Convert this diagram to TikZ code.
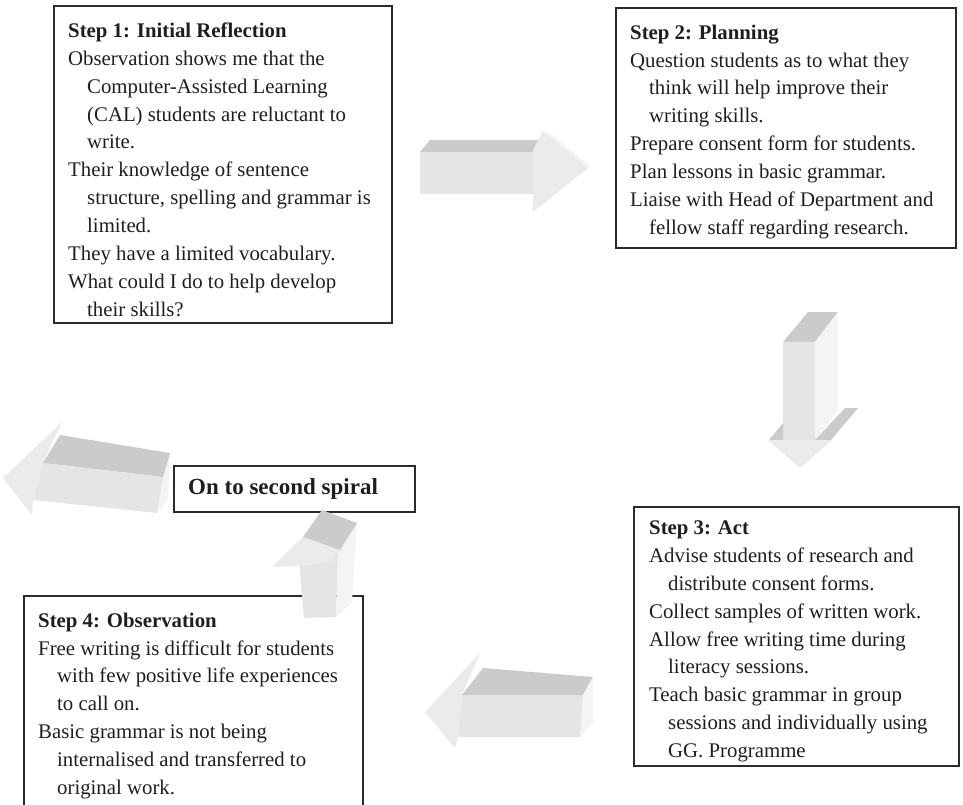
\documentclass[tikz,border=0pt]{standalone}
\usepackage{fontspec}
\setmainfont{Liberation Serif}
\usetikzlibrary{positioning}

\definecolor{ink}{HTML}{1E1E1E}
\definecolor{rule}{HTML}{2B2B2B}
\definecolor{facelight}{HTML}{E5E5E5}
\definecolor{facedark}{HTML}{CBCBCB}
\definecolor{faceside}{HTML}{F4F4F4}
\definecolor{facehead}{HTML}{EBEBEB}

\newcommand{\contline}{\hspace*{19pt}}

\tikzset{
  frame/.style={draw=rule, line width=1.7pt, anchor=north west, inner sep=0pt},
  steptext/.style={align=left, inner sep=0pt, text=ink, font=\fontsize{20.8}{27.9}\selectfont},
  arrowfront/.style={fill=facelight},
  arrowtop/.style={fill=facedark},
  arrowside/.style={fill=faceside},
  arrowhead/.style={fill=facehead}
}

\begin{document}
\begin{tikzpicture}[x=1pt,y=-1pt]
	\useasboundingbox (0,0) rectangle (963,805);
	\clip (0,0) rectangle (963,805);

	\node[frame, minimum width=338pt, minimum height=317pt] (box1) at (53,5) {};
	\node[frame, minimum width=340pt, minimum height=240pt] (box2) at (615,7) {};
	\node[frame, minimum width=325pt, minimum height=259pt] (box3) at (633,506) {};
	\node[frame, minimum width=339pt, minimum height=240pt] (box4) at (23,595) {};
	\node[frame, minimum width=241pt, minimum height=46pt] (spiral) at (173,465) {};

	\node[steptext, below right=17.5pt and 15pt of box1.north west] (step1) {%
		\textbf{Step 1: Initial Reflection}\\
		Observation shows me that the\\
		\contline Computer-Assisted Learning\\
		\contline (CAL) students are reluctant to\\
		\contline write.\\
		Their knowledge of sentence\\
		\contline structure, spelling and grammar is\\
		\contline limited.\\
		They have a limited vocabulary.\\
		What could I do to help develop\\
		\contline their skills?};

	\node[steptext, below right=17.5pt and 15pt of box2.north west] (step2) {%
		\textbf{Step 2: Planning}\\
		Question students as to what they\\
		\contline think will help improve their\\
		\contline writing skills.\\
		Prepare consent form for students.\\
		Plan lessons in basic grammar.\\
		Liaise with Head of Department and\\
		\contline fellow staff regarding research.};

	\node[steptext, below right=14.5pt and 16pt of box3.north west] (step3) {%
		\textbf{Step 3: Act}\\
		Advise students of research and\\
		\contline distribute consent forms.\\
		Collect samples of written work.\\
		Allow free writing time during\\
		\contline literacy sessions.\\
		Teach basic grammar in group\\
		\contline sessions and individually using\\
		\contline GG. Programme};

	\node[steptext, below right=17.5pt and 15pt of box4.north west] (step4) {%
		\textbf{Step 4: Observation}\\
		Free writing is difficult for students\\
		\contline with few positive life experiences\\
		\contline to call on.\\
		Basic grammar is not being\\
		\contline internalised and transferred to\\
		\contline original work.};

	\node[right=15pt of spiral.west, inner sep=0pt, text=ink, font=\bfseries\fontsize{23}{27}\selectfont] (spiraltext) {On to second spiral};

	% step 1 -> step 2
	\fill[arrowtop] (430,140) -- (540,140) -- (533,152) -- (420,152) -- cycle;
	\fill[arrowfront] (420,152) -- (533,152) -- (533,194) -- (420,194) -- cycle;
	\fill[arrowhead] (533,150) -- (543,131) -- (588,168) -- (533,212) -- cycle;
	\fill[arrowside] (543,131) -- (550,133) -- (590,166) -- (588,168) -- cycle;

	% step 2 -> step 3
	\fill[arrowtop] (783,342) -- (808,312) -- (838,312) -- (815,342) -- cycle;
	\fill[arrowside] (815,342) -- (838,312) -- (838,410) -- (815,440) -- cycle;
	\fill[arrowfront] (783,342) -- (815,342) -- (815,440) -- (783,440) -- cycle;
	\fill[arrowside] (830,440) -- (858,408) -- (800,468) -- cycle;
	\fill[arrowtop] (769,440) -- (783,423) -- (783,440) -- cycle;
	\fill[arrowtop] (815,440) -- (845,408) -- (858,408) -- (831,440) -- cycle;
	\fill[arrowhead] (768,440) -- (832,440) -- (800,468) -- cycle;

	% step 3 -> step 4
	\fill[arrowtop] (462,695) -- (483,668) -- (593,677) -- (583,695) -- cycle;
	\fill[arrowside] (583,695) -- (593,677) -- (593,723) -- (580,737) -- cycle;
	\fill[arrowfront] (462,695) -- (583,695) -- (580,737) -- (458,737) -- cycle;
	\fill[arrowhead] (480,653) -- (462,695) -- (458,737) -- (455,748) -- (425,712) -- cycle;

	% step 4 -> second spiral
	\fill[arrowside] (338,550) -- (357,523) -- (352,603) -- (336,617) -- cycle;
	\fill[arrowfront] (298,550) -- (338,550) -- (336,617) -- (304,618) -- cycle;
	\fill[arrowhead] (272,567) -- (303,537) -- (340,550) -- (330,562) -- (300,566) -- cycle;
	\fill[arrowtop] (303,537) -- (322,510) -- (357,523) -- (340,550) -- cycle;

	% out of the first spiral
	\fill[arrowside] (163,477) -- (170,453) -- (168,500) -- (157,513) -- cycle;
	\fill[arrowtop] (43,463) -- (60,435) -- (170,453) -- (163,477) -- cycle;
	\fill[arrowfront] (43,463) -- (163,477) -- (157,513) -- (33,500) -- cycle;
	\fill[arrowhead] (62,422) -- (43,463) -- (33,500) -- (32,515) -- (3,478) -- cycle;
\end{tikzpicture}
\end{document}
